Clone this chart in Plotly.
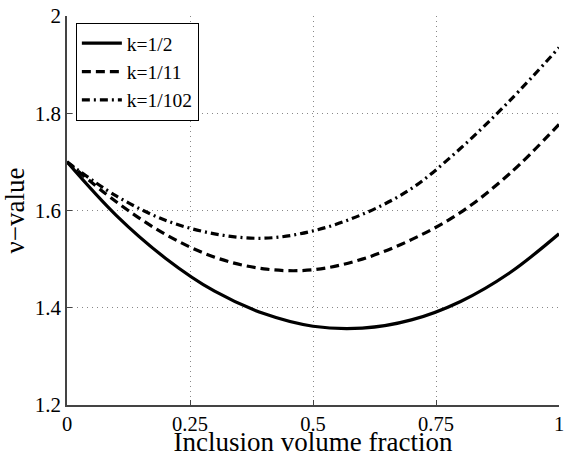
import plotly.graph_objects as go

x_vals = [0.0, 0.1, 0.2, 0.3, 0.4, 0.5, 0.6, 0.7, 0.8, 0.9, 1.0]
k_half = [1.700, 1.590, 1.502, 1.434, 1.388, 1.362, 1.358, 1.375, 1.413, 1.472, 1.552]
k_11 = [1.700, 1.618, 1.551, 1.504, 1.480, 1.478, 1.500, 1.540, 1.596, 1.676, 1.777]
k_102 = [1.700, 1.630, 1.580, 1.552, 1.543, 1.558, 1.592, 1.645, 1.728, 1.826, 1.935]

series_names = ["k=1/2", "k=1/11", "k=1/102"]
x_ticks = [0, 0.25, 0.5, 0.75, 1]
x_ticklabels = ["0", "0.25", "0.5", "0.75", "1"]
y_ticks = [1.2, 1.4, 1.6, 1.8, 2]
y_ticklabels = ["1.2", "1.4", "1.6", "1.8", "2"]

FONT = "Liberation Serif"

fig = go.Figure()
styles = ["solid", "9px,5px", "8px,4px,2px,4px"]
for name, ys, dash in zip(series_names, [k_half, k_11, k_102], styles):
    fig.add_trace(go.Scatter(
        x=x_vals, y=ys, mode="lines", name=name,
        line=dict(color="black", width=3.2, dash=dash, shape="spline", smoothing=1.0),
    ))

fig.update_layout(
    width=564, height=457,
    margin=dict(l=67, r=5, t=16, b=52),
    paper_bgcolor="white", plot_bgcolor="white",
    font=dict(family=FONT, size=21, color="black"),
    showlegend=True,
    legend=dict(
        x=0.018, y=0.982, xanchor="left", yanchor="top",
        bgcolor="white", bordercolor="black", borderwidth=1,
        font=dict(family=FONT, size=19.5, color="black"),
        itemwidth=40, tracegroupgap=0,
    ),
    xaxis=dict(
        range=[0, 1], tickvals=x_ticks, ticktext=x_ticklabels,
        showline=True, linecolor="#444444", linewidth=1.5, mirror=False,
        ticks="inside", ticklen=5, tickcolor="#444444",
        showgrid=True, gridcolor="#888888", griddash="1px,4px", gridwidth=1,
        zeroline=False, ticklabeloverflow="allow", automargin=False,
        title=dict(text="Inclusion volume fraction", font=dict(family=FONT, size=27), standoff=2),
        tickfont=dict(family=FONT, size=20.5),
    ),
    yaxis=dict(
        range=[1.2, 2], tickvals=y_ticks, ticktext=y_ticklabels,
        showline=True, linecolor="#444444", linewidth=1.5, mirror=False,
        ticks="inside", ticklen=5, tickcolor="#444444",
        showgrid=True, gridcolor="#888888", griddash="1px,4px", gridwidth=1,
        zeroline=False, automargin=False,
        title=dict(text="ν−value", font=dict(family=FONT, size=27), standoff=2),
        tickfont=dict(family=FONT, size=21),
    ),
)

fig.write_html("out.html")
